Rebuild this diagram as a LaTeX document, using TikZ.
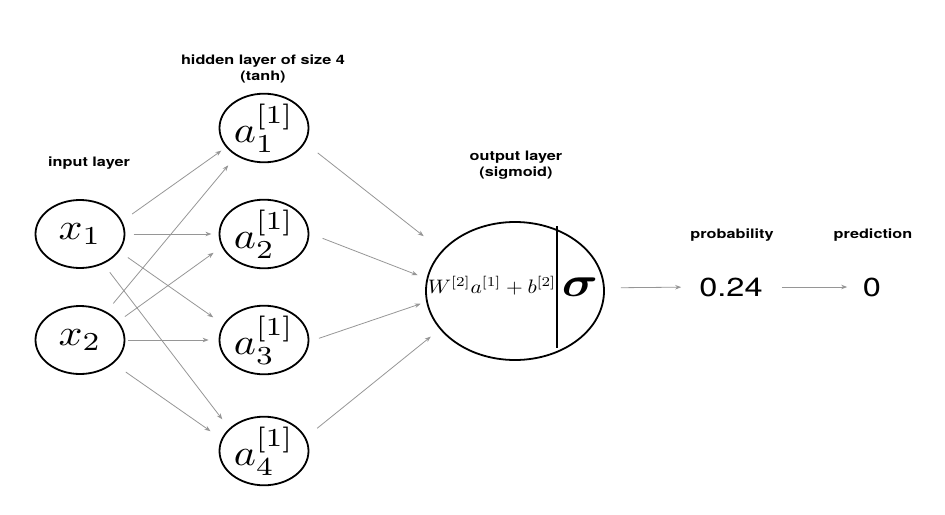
\documentclass[tikz,border=0pt]{standalone}
\usepackage{amsmath}
\usepackage{graphicx}
\usepackage{fontspec}
\newfontfamily\hv{TeX Gyre Heros}
\usetikzlibrary{shapes.geometric,arrows.meta,calc}
\newcommand{\hs}[1]{\scalebox{1.25}[1]{#1}}
\newcommand{\nnmath}[1]{\scalebox{4.2}[3.7]{#1}}
\definecolor{conngray}{RGB}{150,150,150}
\tikzset{
  neuron/.style={ellipse,draw,line width=1.8pt,minimum width=89pt,minimum height=68pt,inner sep=0pt},
  outneuron/.style={ellipse,draw,line width=1.8pt,minimum width=178pt,minimum height=138pt,inner sep=0pt},
  conn/.style={draw=conngray,line width=0.8pt,-{Stealth[length=6pt,width=4.5pt]}},
  lbl/.style={font=\hv\bfseries\fontsize{13}{16}\selectfont,align=center,inner sep=0pt},
  numtxt/.style={font=\hv\fontsize{26}{28}\selectfont,inner sep=0pt}
}
\begin{document}
\begin{tikzpicture}[x=1pt,y=-1pt]
\useasboundingbox (0,0) rectangle (945,514);
% input layer
\node[neuron] (x1) at (80,234) {\nnmath{$x_1$}};
\node[neuron] (x2) at (80,340) {\nnmath{$x_2$}};
% hidden layer
\node[neuron] (a1) at (264,128) {\nnmath{$a_1^{[1]}$}};
\node[neuron] (a2) at (264,234) {\nnmath{$a_2^{[1]}$}};
\node[neuron] (a3) at (264,340) {\nnmath{$a_3^{[1]}$}};
\node[neuron] (a4) at (264,451) {\nnmath{$a_4^{[1]}$}};
% output
\node[outneuron] (out) at (515,291) {};
\draw[line width=1.3pt] ($(out.center)+(42,-65)$) -- ($(out.center)+(42,57)$);
\node[inner sep=0pt] (formula) at (492,286) {\scalebox{2.15}[1.95]{$W^{[2]}a^{[1]}+b^{[2]}$}};
\node[inner sep=0pt] (sig) at (580,287) {\scalebox{5.0}[4.2]{$\boldsymbol{\sigma}$}};
% results
\node[numtxt] (prob) at (731,287) {\hs{0.24}};
\node[numtxt] (pred) at (872,287) {\hs{0}};
% labels
\node[lbl] (lblin) at (89,163) {\hs{input layer}};
\node[lbl] (lblhid) at (263,69) {\hs{hidden layer of size 4}\\\hs{(tanh)}};
\node[lbl] (lblout) at (516,165) {\hs{output layer}\\\hs{(sigmoid)}};
\node[lbl] (lblprob) at (732,235) {\hs{probability}};
\node[lbl] (lblpred) at (873,235) {\hs{prediction}};
% input -> hidden
\draw[conn,shorten <=12.3pt,shorten >=5.7pt] (x1.17.8) -- (a1.207.6);
\draw[conn,shorten <=8.2pt,shorten >=7.2pt] (x1.0) -- (a2.180);
\draw[conn,shorten <=10.5pt,shorten >=12.3pt] (x1.-24.6) -- (a3.159.9);
\draw[conn,shorten <=10.6pt,shorten >=11.4pt] (x1.-52.7) -- (a4.147.5);
\draw[conn,shorten <=10.7pt,shorten >=12.4pt] (x2.47.5) -- (a1.225);
\draw[conn,shorten <=8.1pt,shorten >=10pt] (x2.26.1) -- (a2.197.4);
\draw[conn,shorten <=2.5pt,shorten >=10pt] (x2.0) -- (a3.180);
\draw[conn,shorten <=14.9pt,shorten >=13.3pt] (x2.-35.4) -- (a4.164.7);
% hidden -> output
\draw[conn,shorten <=16pt,shorten >=23pt] (a1.-20.9) -- (out.151.3);
\draw[conn,shorten <=14.2pt,shorten >=9.5pt] (a2.1) -- (out.172.4);
\draw[conn,shorten <=10.2pt,shorten >=5.8pt] (a3.-2.1) -- (out.187.4);
\draw[conn,shorten <=14.6pt,shorten >=11.6pt] (a4.18.1) -- (out.207.6);
% output -> results
\draw[conn,shorten <=16pt,shorten >=18pt] (out.2.2) -- (prob.west);
\draw[conn,shorten <=19pt,shorten >=15.6pt] (prob.east) -- (pred.west);
\end{tikzpicture}
\end{document}
